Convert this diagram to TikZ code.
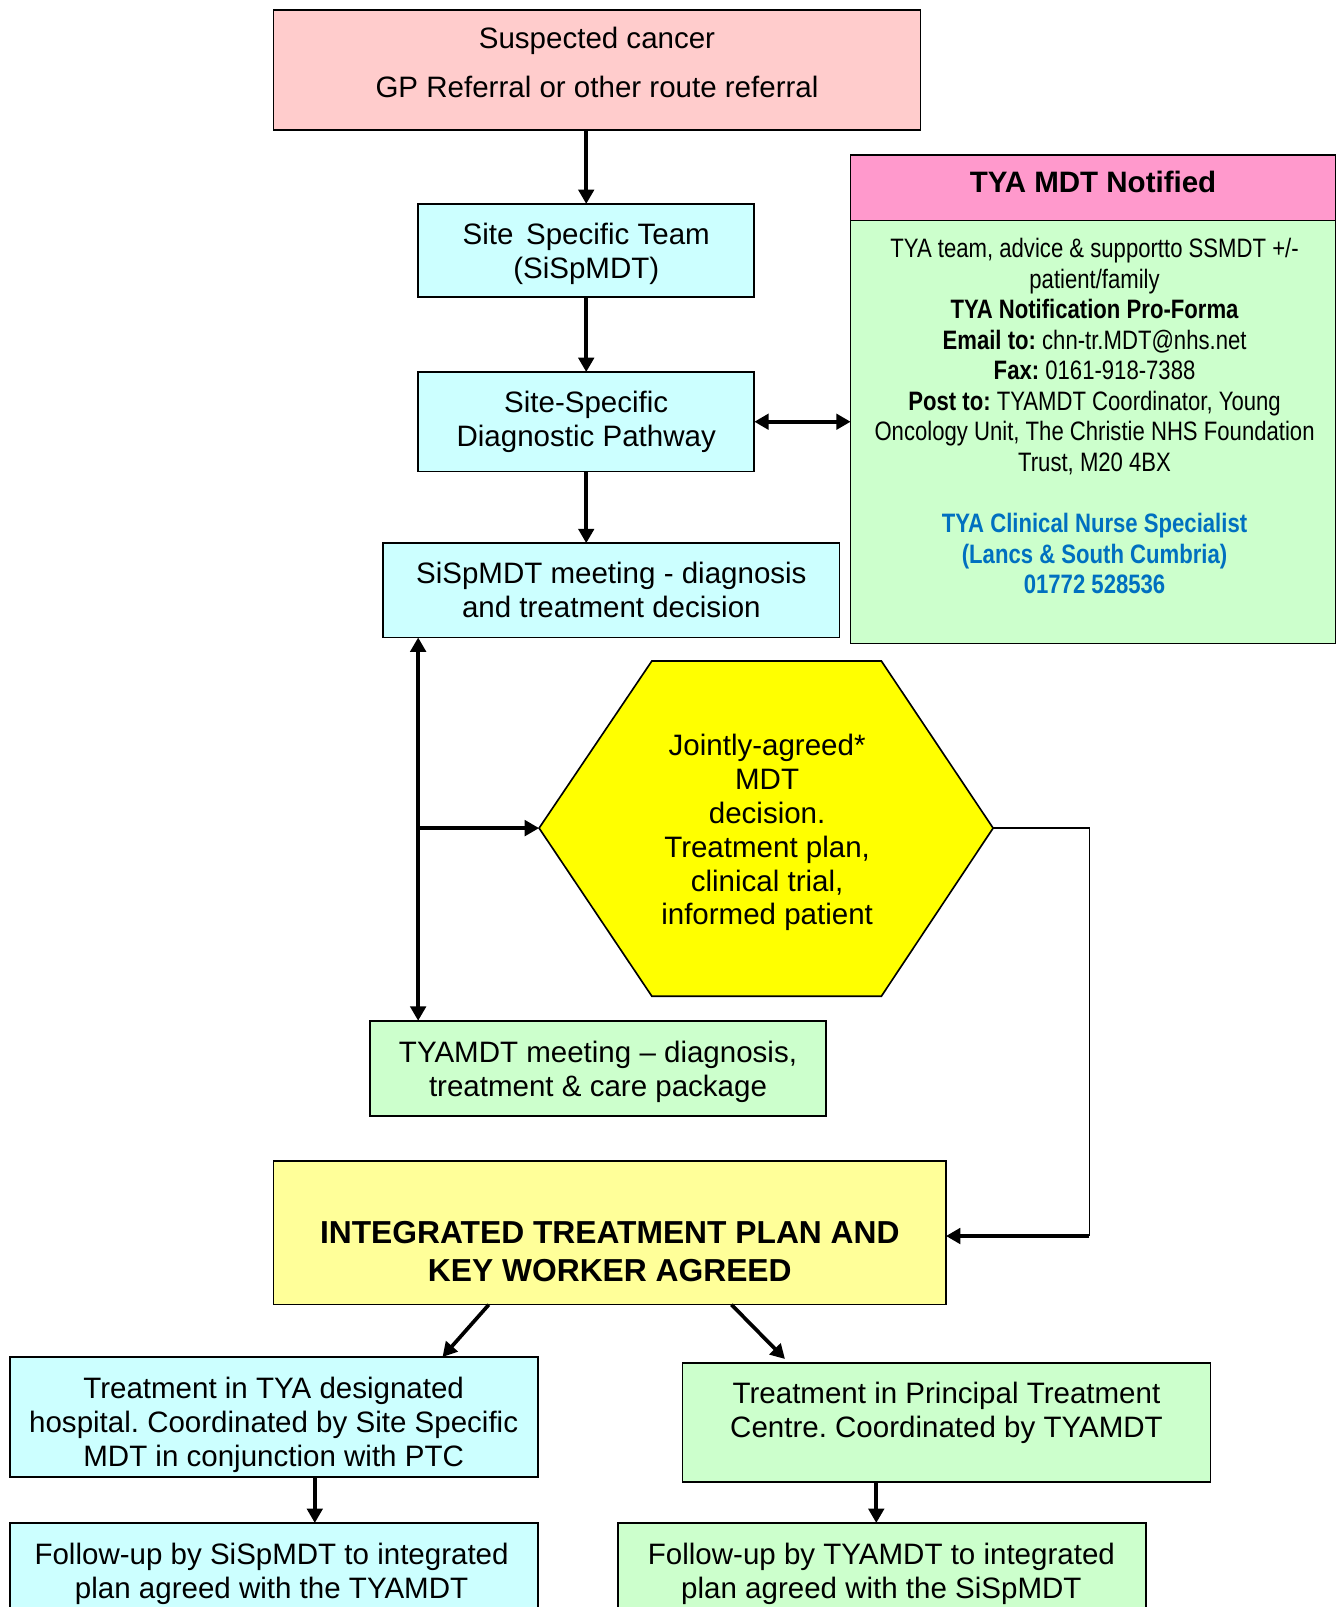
\documentclass[tikz,border=0pt]{standalone}
\usepackage{fontspec}
\setmainfont{Liberation Sans}
\newfontfamily\narrowfont[FakeStretch=0.83]{Liberation Sans}
\usetikzlibrary{arrows.meta,calc,fit}
\definecolor{pinkc}{HTML}{FFCCCC}
\definecolor{cyanc}{HTML}{CCFFFF}
\definecolor{greenc}{HTML}{CCFFCC}
\definecolor{headc}{HTML}{FF99CC}
\definecolor{yelc}{HTML}{FFFF00}
\definecolor{lyelc}{HTML}{FFFF99}
\definecolor{bluec}{HTML}{0070C0}
\newcommand\fsmain{\fontsize{14.4pt}{16.5pt}\selectfont}
\newcommand\fsnarrow{\narrowfont\fontsize{13pt}{14.9pt}\selectfont}
\newcommand\fsbig{\fontsize{15.5pt}{18.5pt}\selectfont\bfseries}
\frenchspacing
\begin{document}
\begin{tikzpicture}[x=0.5pt,y=-0.5pt,
 box/.style={draw=black, line width=0.8pt, inner sep=0pt, outer sep=0pt},
 txt/.style={align=center, inner sep=0pt, font=\fsmain},
 arr/.style={line width=1.8pt, -{Triangle[length=7pt,width=7.5pt]}},
 arrboth/.style={line width=1.8pt, {Triangle[length=7pt,width=7.5pt]}-{Triangle[length=7pt,width=7.5pt]}},
 thinline/.style={line width=0.8pt}]
\useasboundingbox (0,0) rectangle (1310,1568);
\clip (0,0) rectangle (1310,1568);
\fill[white] (0,0) rectangle (1310,1568);

% boxes
\node[box, fill=pinkc, fit={(267,10) (898,127)}] (top) {};
\node[txt] (topt) at (582.5,61) {Suspected cancer\\[7.5pt]GP Referral or other route referral};

\node[box, fill=cyanc, fit={(408,199) (736,290)}] (sst) {};
\node[txt] (sstt) at (572,247.5) {Site\hspace{0.15em} Specific Team\\(SiSpMDT)};

\node[box, fill=cyanc, fit={(408,363) (736,460)}] (sdp) {};
\node[txt] (sdpt) at (572,411.5) {Site-Specific\\Diagnostic Pathway};

\node[box, fill=cyanc, fit={(374,530) (819,622)}] (ssm) {};
\node[txt] (ssmt) at (596.5,575.5) {SiSpMDT meeting - diagnosis\\and treatment decision};

\node[box, fill=headc, fit={(830,151) (1303,215)}] (ghead) {};
\node[txt, font=\fsmain\bfseries] (gheadt) at (1066.5,178) {TYA MDT Notified};
\node[box, fill=greenc, fit={(830,215) (1303,628)}] (gbody) {};
\node[txt, font=\fsnarrow] (gbodyt) at (1068,406) {TYA team, advice \& supportto SSMDT +/-\\
patient/family\\
\textbf{TYA Notification Pro-Forma}\\
\textbf{Email to:} chn-tr.MDT@nhs.net\\
\textbf{Fax:} 0161-918-7388\\
\textbf{Post to:} TYAMDT Coordinator, Young\\
Oncology Unit, The Christie NHS Foundation\\
Trust, M20 4BX\\[14.9pt]
\textcolor{bluec}{\textbf{TYA Clinical Nurse Specialist}}\\
\textcolor{bluec}{\textbf{(Lancs \& South Cumbria)}}\\
\textcolor{bluec}{\textbf{01772 528536}}};

% hexagon
\coordinate (hexL) at (526,808);
\coordinate (hexTL) at (636,645);
\coordinate (hexTR) at (860,645);
\coordinate (hexR) at (969,808);
\coordinate (hexBR) at (860,972);
\coordinate (hexBL) at (636,972);
\draw[box, fill=yelc] (hexL) -- (hexTL) -- (hexTR) -- (hexR) -- (hexBR) -- (hexBL) -- cycle;
\node[txt] (hex) at (748.5,812.5) {Jointly-agreed*\\MDT\\decision.\\Treatment plan,\\clinical trial,\\informed patient};

\node[box, fill=greenc, fit={(361,996) (806,1089)}] (tya) {};
\node[txt] (tyat) at (583.5,1045.5) {TYAMDT meeting -- diagnosis,\\treatment \& care package};

\node[box, fill=lyelc, fit={(267,1133) (923,1273)}] (integ) {};
\node[txt, font=\fsbig] (integt) at (595,1221.5) {INTEGRATED TREATMENT PLAN AND\\KEY WORKER AGREED};

\node[box, fill=cyanc, fit={(10,1324) (525,1441)}] (hosp) {};
\node[txt] (hospt) at (267,1390) {Treatment in TYA designated\\hospital. Coordinated by Site Specific\\MDT in conjunction with PTC};

\node[box, fill=greenc, fit={(666,1330) (1181,1446)}] (ptc) {};
\node[txt] (ptct) at (923.5,1378.5) {Treatment in Principal Treatment\\Centre. Coordinated by TYAMDT};

\node[box, fill=cyanc, fit={(10,1486) (525,1620)}] (fu1) {};
\node[txt] (fu1t) at (265,1535.5) {Follow-up by SiSpMDT to integrated\\plan agreed with the TYAMDT};

\node[box, fill=greenc, fit={(603,1486) (1118,1620)}] (fu2) {};
\node[txt] (fu2t) at (860,1535.5) {Follow-up by TYAMDT to integrated\\plan agreed with the SiSpMDT};

% connectors
\draw[arr] (top.south -| sst.north) -- (sst.north);
\draw[arr] (sst.south) -- (sdp.north);
\draw[arr] (sdp.south) -- (sdp.south |- ssm.north);
\draw[arrboth] (sdp.east) -- (gbody.west |- sdp.east);
\coordinate (vx) at (408,808);
\draw[arrboth] (vx |- ssm.south) -- (vx |- tya.north);
\draw[arr] (vx) -- (hexL);
\coordinate (rc1) at (1063,808);
\coordinate (rc2) at (1063,1206);
\draw[thinline] (hexR) -- (rc1) -- (rc2);
\draw[arr] (rc2) -- (integ.east |- rc2);
\draw[arr] ($(integ.south west)!0.32!(integ.south east)$) -- ($(hosp.north west)!0.819!(hosp.north east)$);
\draw[arr] ($(integ.south west)!0.681!(integ.south east)$) -- ($(ptc.north west)!0.194!(ptc.north east)+(0,-4)$);
\coordinate (h1) at ($(hosp.south west)!0.577!(hosp.south east)$);
\draw[arr] (h1) -- (h1 |- fu1.north);
\coordinate (p1) at ($(ptc.south west)!0.367!(ptc.south east)$);
\draw[arr] (p1) -- (p1 |- fu2.north);
\end{tikzpicture}
\end{document}
